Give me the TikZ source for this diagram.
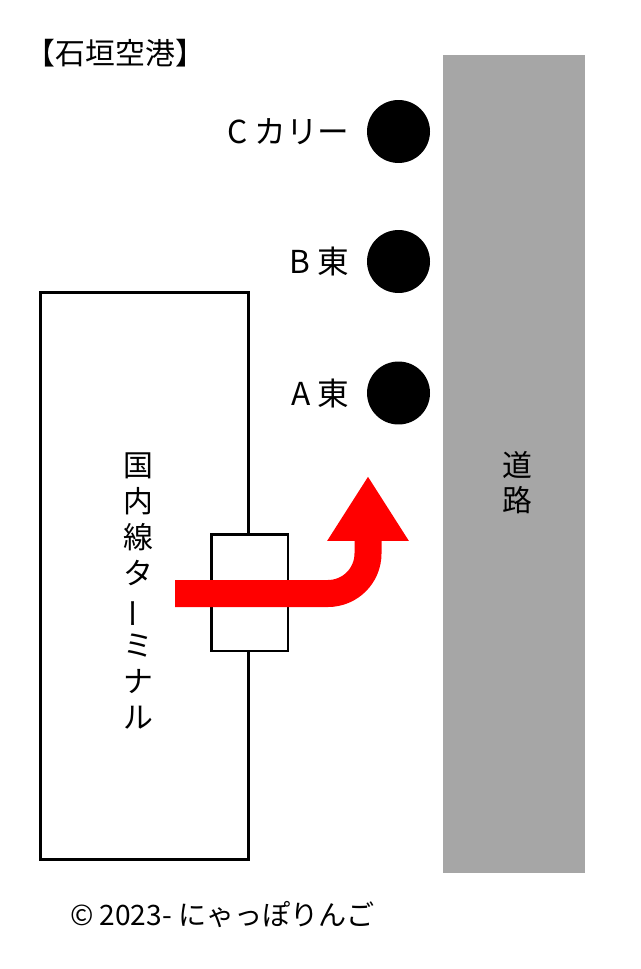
\documentclass[tikz,border=0pt]{standalone}
\usepackage{fontspec}
\setmainfont{Noto Sans CJK JP}
\usepackage{graphicx}
\usepackage{tikz}
\usetikzlibrary{arrows.meta,positioning}
\definecolor{roadgray}{RGB}{166,166,166}
\definecolor{arrowred}{RGB}{255,0,0}
\newcommand{\tatebou}{\rotatebox[origin=c]{90}{ー}}
\tikzstyle{busstop} = [circle, fill=black, minimum size=1.26cm, inner sep=0]
\tikzstyle{stoplabel} = [inner sep=0, font=\fontsize{18}{21}\selectfont]
\tikzstyle{building} = [rectangle, draw=black, line width=1.7pt, fill=white, inner sep=0]
\tikzstyle{bigarrow} = [line width=0.54cm, color=arrowred, rounded corners=0.8cm, -{Triangle[width=1.54cm, length=1.3cm]}]

\begin{document}
\begin{tikzpicture}[x=0.02cm, y=-0.02cm]
\useasboundingbox (0,0) rectangle (640,969);

% Title
\node (title) [font=\fontsize{17}{20}\selectfont, inner sep=0] at (115.5,53) {【石垣空港】};

% Road
\node (road) [rectangle, fill=roadgray, minimum width=2.84cm, minimum height=16.36cm, inner sep=0] at (514,464) {};
\node (roadlbl) [align=center, inner sep=0, font=\fontsize{17}{19.9}\selectfont] at (517,483) {道\\路};

% Bus stops
\node (stopC) [busstop] at (398.5,131.5) {};
\node (stopB) [busstop] at (398.5,261.5) {};
\node (stopA) [busstop] at (398.5,393) {};
\node (lblC) [stoplabel, left=0.34cm of stopC] {C カリー};
\node (lblB) [stoplabel, left=0.34cm of stopB] {B 東};
\node (lblA) [stoplabel, left=0.34cm of stopA] {A 東};

% Terminal building
\node (terminal) [building, minimum width=4.18cm, minimum height=11.36cm] at (144.5,576) {};
\node (termlbl) [align=center, inner sep=0, font=\fontsize{17}{20.5}\selectfont] at (138,591) {国\\内\\線\\タ\\\tatebou\\ミ\\ナ\\ル};
\node (gate) [building, minimum width=1.54cm, minimum height=2.34cm] at (249.5,592.5) {};

% Walking route
\coordinate (routeS) at (175,593.5);
\coordinate (routeT) at (368,476);
\draw[bigarrow] (routeS) -| (routeT);

% Copyright
\node (copy) [inner sep=0, font=\fontsize{16}{19}\selectfont] at (222.5,915) {© 2023- にゃっぽりんご};
\end{tikzpicture}
\end{document}
